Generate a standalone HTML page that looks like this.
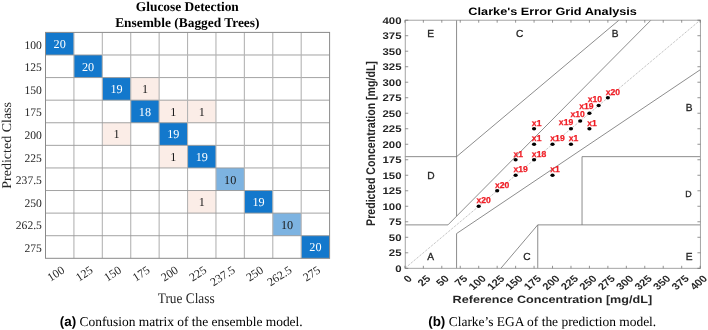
<!DOCTYPE html>
<html><head><meta charset="utf-8"><style>html,body{margin:0;padding:0;width:708px;height:330px;overflow:hidden;background:#fff;font-family:"Liberation Sans",sans-serif}
#w{position:absolute;left:0;top:0;width:708px;height:330px;will-change:transform}
svg text{text-rendering:geometricPrecision}</style></head>
<body><div id="w">
<svg width="708" height="330" viewBox="0 0 708 330">
<rect width="708" height="330" fill="#fff"/>
<rect x="45.50" y="32.40" width="28.41" height="22.59" fill="#1378CC"/>
<rect x="73.91" y="54.99" width="28.41" height="22.59" fill="#1378CC"/>
<rect x="102.32" y="77.58" width="28.41" height="22.59" fill="#1378CC"/>
<rect x="130.73" y="77.58" width="28.41" height="22.59" fill="#FBEDE7"/>
<rect x="130.73" y="100.17" width="28.41" height="22.59" fill="#1378CC"/>
<rect x="159.14" y="100.17" width="28.41" height="22.59" fill="#FBEDE7"/>
<rect x="187.55" y="100.17" width="28.41" height="22.59" fill="#FBEDE7"/>
<rect x="102.32" y="122.76" width="28.41" height="22.59" fill="#FBEDE7"/>
<rect x="159.14" y="122.76" width="28.41" height="22.59" fill="#1378CC"/>
<rect x="159.14" y="145.35" width="28.41" height="22.59" fill="#FBEDE7"/>
<rect x="187.55" y="145.35" width="28.41" height="22.59" fill="#1378CC"/>
<rect x="215.96" y="167.94" width="28.41" height="22.59" fill="#7DB3E1"/>
<rect x="187.55" y="190.53" width="28.41" height="22.59" fill="#FBEDE7"/>
<rect x="244.37" y="190.53" width="28.41" height="22.59" fill="#1378CC"/>
<rect x="272.78" y="213.12" width="28.41" height="22.59" fill="#7DB3E1"/>
<rect x="301.19" y="235.71" width="28.41" height="22.59" fill="#1378CC"/>
<line x1="73.91" y1="32.4" x2="73.91" y2="258.3" stroke="#b4b4b4" stroke-width="1.1"/>
<line x1="45.5" y1="54.99" x2="329.6" y2="54.99" stroke="#999" stroke-width="0.9"/>
<line x1="102.32" y1="32.4" x2="102.32" y2="258.3" stroke="#b4b4b4" stroke-width="1.1"/>
<line x1="45.5" y1="77.58" x2="329.6" y2="77.58" stroke="#999" stroke-width="0.9"/>
<line x1="130.73" y1="32.4" x2="130.73" y2="258.3" stroke="#b4b4b4" stroke-width="1.1"/>
<line x1="45.5" y1="100.17" x2="329.6" y2="100.17" stroke="#999" stroke-width="0.9"/>
<line x1="159.14" y1="32.4" x2="159.14" y2="258.3" stroke="#b4b4b4" stroke-width="1.1"/>
<line x1="45.5" y1="122.76" x2="329.6" y2="122.76" stroke="#999" stroke-width="0.9"/>
<line x1="187.55" y1="32.4" x2="187.55" y2="258.3" stroke="#b4b4b4" stroke-width="1.1"/>
<line x1="45.5" y1="145.35" x2="329.6" y2="145.35" stroke="#999" stroke-width="0.9"/>
<line x1="215.96" y1="32.4" x2="215.96" y2="258.3" stroke="#b4b4b4" stroke-width="1.1"/>
<line x1="45.5" y1="167.94" x2="329.6" y2="167.94" stroke="#999" stroke-width="0.9"/>
<line x1="244.37" y1="32.4" x2="244.37" y2="258.3" stroke="#b4b4b4" stroke-width="1.1"/>
<line x1="45.5" y1="190.53" x2="329.6" y2="190.53" stroke="#999" stroke-width="0.9"/>
<line x1="272.78" y1="32.4" x2="272.78" y2="258.3" stroke="#b4b4b4" stroke-width="1.1"/>
<line x1="45.5" y1="213.12" x2="329.6" y2="213.12" stroke="#999" stroke-width="0.9"/>
<line x1="301.19" y1="32.4" x2="301.19" y2="258.3" stroke="#b4b4b4" stroke-width="1.1"/>
<line x1="45.5" y1="235.71" x2="329.6" y2="235.71" stroke="#999" stroke-width="0.9"/>
<rect x="45.5" y="32.4" width="284.10" height="225.90" fill="none" stroke="#8a8a8a" stroke-width="1"/>
<text transform="translate(59.70,47.99)" font-family="Liberation Serif, serif" font-size="12.2" fill="#fff" text-anchor="middle">20</text>
<text transform="translate(88.12,70.58)" font-family="Liberation Serif, serif" font-size="12.2" fill="#fff" text-anchor="middle">20</text>
<text transform="translate(116.53,93.17)" font-family="Liberation Serif, serif" font-size="12.2" fill="#fff" text-anchor="middle">19</text>
<text transform="translate(144.94,93.17)" font-family="Liberation Serif, serif" font-size="12.2" fill="#1a1a1a" text-anchor="middle">1</text>
<text transform="translate(144.94,115.77)" font-family="Liberation Serif, serif" font-size="12.2" fill="#fff" text-anchor="middle">18</text>
<text transform="translate(173.35,115.77)" font-family="Liberation Serif, serif" font-size="12.2" fill="#1a1a1a" text-anchor="middle">1</text>
<text transform="translate(201.76,115.77)" font-family="Liberation Serif, serif" font-size="12.2" fill="#1a1a1a" text-anchor="middle">1</text>
<text transform="translate(116.53,138.36)" font-family="Liberation Serif, serif" font-size="12.2" fill="#1a1a1a" text-anchor="middle">1</text>
<text transform="translate(173.35,138.36)" font-family="Liberation Serif, serif" font-size="12.2" fill="#fff" text-anchor="middle">19</text>
<text transform="translate(173.35,160.95)" font-family="Liberation Serif, serif" font-size="12.2" fill="#1a1a1a" text-anchor="middle">1</text>
<text transform="translate(201.76,160.95)" font-family="Liberation Serif, serif" font-size="12.2" fill="#fff" text-anchor="middle">19</text>
<text transform="translate(230.17,183.54)" font-family="Liberation Serif, serif" font-size="12.2" fill="#1a1a1a" text-anchor="middle">10</text>
<text transform="translate(201.76,206.13)" font-family="Liberation Serif, serif" font-size="12.2" fill="#1a1a1a" text-anchor="middle">1</text>
<text transform="translate(258.58,206.13)" font-family="Liberation Serif, serif" font-size="12.2" fill="#fff" text-anchor="middle">19</text>
<text transform="translate(286.99,228.72)" font-family="Liberation Serif, serif" font-size="12.2" fill="#1a1a1a" text-anchor="middle">10</text>
<text transform="translate(315.40,251.31)" font-family="Liberation Serif, serif" font-size="12.2" fill="#fff" text-anchor="middle">20</text>
<text transform="translate(41.90,48.70)" font-family="Liberation Serif, serif" font-size="11.6" fill="#262626" text-anchor="end">100</text>
<text transform="translate(41.90,71.28)" font-family="Liberation Serif, serif" font-size="11.6" fill="#262626" text-anchor="end">125</text>
<text transform="translate(41.90,93.88)" font-family="Liberation Serif, serif" font-size="11.6" fill="#262626" text-anchor="end">150</text>
<text transform="translate(41.90,116.47)" font-family="Liberation Serif, serif" font-size="11.6" fill="#262626" text-anchor="end">175</text>
<text transform="translate(41.90,139.06)" font-family="Liberation Serif, serif" font-size="11.6" fill="#262626" text-anchor="end">200</text>
<text transform="translate(41.90,161.65)" font-family="Liberation Serif, serif" font-size="11.6" fill="#262626" text-anchor="end">225</text>
<text transform="translate(41.90,184.24)" font-family="Liberation Serif, serif" font-size="11.6" fill="#262626" text-anchor="end">237.5</text>
<text transform="translate(41.90,206.83)" font-family="Liberation Serif, serif" font-size="11.6" fill="#262626" text-anchor="end">250</text>
<text transform="translate(41.90,229.41)" font-family="Liberation Serif, serif" font-size="11.6" fill="#262626" text-anchor="end">262.5</text>
<text transform="translate(41.90,252.00)" font-family="Liberation Serif, serif" font-size="11.6" fill="#262626" text-anchor="end">275</text>
<text transform="translate(63.20,268.70) rotate(-33)" x="0" y="4" font-family="Liberation Serif, serif" font-size="11.8" fill="#262626" text-anchor="end">100</text>
<text transform="translate(91.62,268.70) rotate(-33)" x="0" y="4" font-family="Liberation Serif, serif" font-size="11.8" fill="#262626" text-anchor="end">125</text>
<text transform="translate(120.03,268.70) rotate(-33)" x="0" y="4" font-family="Liberation Serif, serif" font-size="11.8" fill="#262626" text-anchor="end">150</text>
<text transform="translate(148.44,268.70) rotate(-33)" x="0" y="4" font-family="Liberation Serif, serif" font-size="11.8" fill="#262626" text-anchor="end">175</text>
<text transform="translate(176.85,268.70) rotate(-33)" x="0" y="4" font-family="Liberation Serif, serif" font-size="11.8" fill="#262626" text-anchor="end">200</text>
<text transform="translate(205.26,268.70) rotate(-33)" x="0" y="4" font-family="Liberation Serif, serif" font-size="11.8" fill="#262626" text-anchor="end">225</text>
<text transform="translate(233.67,268.70) rotate(-33)" x="0" y="4" font-family="Liberation Serif, serif" font-size="11.8" fill="#262626" text-anchor="end">237.5</text>
<text transform="translate(262.08,268.70) rotate(-33)" x="0" y="4" font-family="Liberation Serif, serif" font-size="11.8" fill="#262626" text-anchor="end">250</text>
<text transform="translate(290.49,268.70) rotate(-33)" x="0" y="4" font-family="Liberation Serif, serif" font-size="11.8" fill="#262626" text-anchor="end">262.5</text>
<text transform="translate(318.90,268.70) rotate(-33)" x="0" y="4" font-family="Liberation Serif, serif" font-size="11.8" fill="#262626" text-anchor="end">275</text>
<text transform="translate(186.20,302.70) scale(0.9130,1.0000)" font-family="Liberation Serif, serif" font-size="14.6" fill="#262626" text-anchor="middle">True Class</text>
<text transform="translate(10.90,145.35) scale(1.0000,1.0450) rotate(-90)" font-family="Liberation Serif, serif" font-size="13.4" fill="#262626" text-anchor="middle">Predicted Class</text>
<text transform="translate(187.30,10.60)" font-family="Liberation Serif, serif" font-size="13.4" font-weight="bold" fill="#000" text-anchor="middle">Glucose Detection</text>
<text transform="translate(187.30,26.50)" font-family="Liberation Serif, serif" font-size="13.4" font-weight="bold" fill="#000" text-anchor="middle">Ensemble (Bagged Trees)</text>
<line x1="404.90" y1="224.88" x2="447.96" y2="224.88" stroke="#707070" stroke-width="0.8"/>
<line x1="447.96" y1="224.88" x2="650.93" y2="20.20" stroke="#707070" stroke-width="0.8"/>
<line x1="456.57" y1="216.20" x2="456.57" y2="20.20" stroke="#707070" stroke-width="0.8"/>
<line x1="404.90" y1="156.65" x2="456.57" y2="156.65" stroke="#707070" stroke-width="0.8"/>
<line x1="456.57" y1="156.65" x2="618.95" y2="20.20" stroke="#707070" stroke-width="0.8"/>
<line x1="456.57" y1="268.30" x2="456.57" y2="233.57" stroke="#707070" stroke-width="0.8"/>
<line x1="456.57" y1="233.57" x2="700.14" y2="69.82" stroke="#707070" stroke-width="0.8"/>
<line x1="537.76" y1="268.30" x2="537.76" y2="224.88" stroke="#707070" stroke-width="0.8"/>
<line x1="537.76" y1="224.88" x2="700.14" y2="224.88" stroke="#707070" stroke-width="0.8"/>
<line x1="582.04" y1="224.88" x2="582.04" y2="156.65" stroke="#707070" stroke-width="0.8"/>
<line x1="582.04" y1="156.65" x2="700.14" y2="156.65" stroke="#707070" stroke-width="0.8"/>
<line x1="500.85" y1="268.30" x2="537.76" y2="224.88" stroke="#707070" stroke-width="0.8"/>
<line x1="404.90" y1="268.30" x2="700.14" y2="20.20" stroke="#8c8c8c" stroke-width="0.75" stroke-dasharray="0.9 1.1"/>
<rect x="405.25" y="20.20" width="295.15" height="248.10" fill="none" stroke="#9a9a9a" stroke-width="0.9"/>
<path d="M404.90 268.3v-2.5M404.90 20.2v2.5M405.25 268.30h2.97M700.4 268.30h-2.97M423.35 268.3v-2.5M423.35 20.2v2.5M405.25 252.79h2.97M700.4 252.79h-2.97M441.80 268.3v-2.5M441.80 20.2v2.5M405.25 237.29h2.97M700.4 237.29h-2.97M460.26 268.3v-2.5M460.26 20.2v2.5M405.25 221.78h2.97M700.4 221.78h-2.97M478.71 268.3v-2.5M478.71 20.2v2.5M405.25 206.28h2.97M700.4 206.28h-2.97M497.16 268.3v-2.5M497.16 20.2v2.5M405.25 190.77h2.97M700.4 190.77h-2.97M515.62 268.3v-2.5M515.62 20.2v2.5M405.25 175.26h2.97M700.4 175.26h-2.97M534.07 268.3v-2.5M534.07 20.2v2.5M405.25 159.76h2.97M700.4 159.76h-2.97M552.52 268.3v-2.5M552.52 20.2v2.5M405.25 144.25h2.97M700.4 144.25h-2.97M570.97 268.3v-2.5M570.97 20.2v2.5M405.25 128.74h2.97M700.4 128.74h-2.97M589.42 268.3v-2.5M589.42 20.2v2.5M405.25 113.24h2.97M700.4 113.24h-2.97M607.88 268.3v-2.5M607.88 20.2v2.5M405.25 97.73h2.97M700.4 97.73h-2.97M626.33 268.3v-2.5M626.33 20.2v2.5M405.25 82.23h2.97M700.4 82.23h-2.97M644.78 268.3v-2.5M644.78 20.2v2.5M405.25 66.72h2.97M700.4 66.72h-2.97M663.23 268.3v-2.5M663.23 20.2v2.5M405.25 51.21h2.97M700.4 51.21h-2.97M681.69 268.3v-2.5M681.69 20.2v2.5M405.25 35.71h2.97M700.4 35.71h-2.97M700.14 268.3v-2.5M700.14 20.2v2.5M405.25 20.20h2.97M700.4 20.20h-2.97" stroke="#666" stroke-width="0.7" fill="none"/>
<text transform="translate(401.50,271.80) scale(1.1894,1.0000)" font-family="Liberation Sans, sans-serif" font-size="9.6" font-weight="bold" fill="#262626" text-anchor="end">0</text>
<text transform="translate(401.50,256.29) scale(1.1894,1.0000)" font-family="Liberation Sans, sans-serif" font-size="9.6" font-weight="bold" fill="#262626" text-anchor="end">25</text>
<text transform="translate(401.50,240.79) scale(1.1894,1.0000)" font-family="Liberation Sans, sans-serif" font-size="9.6" font-weight="bold" fill="#262626" text-anchor="end">50</text>
<text transform="translate(401.50,225.28) scale(1.1894,1.0000)" font-family="Liberation Sans, sans-serif" font-size="9.6" font-weight="bold" fill="#262626" text-anchor="end">75</text>
<text transform="translate(401.50,209.78) scale(1.1894,1.0000)" font-family="Liberation Sans, sans-serif" font-size="9.6" font-weight="bold" fill="#262626" text-anchor="end">100</text>
<text transform="translate(401.50,194.27) scale(1.1894,1.0000)" font-family="Liberation Sans, sans-serif" font-size="9.6" font-weight="bold" fill="#262626" text-anchor="end">125</text>
<text transform="translate(401.50,178.76) scale(1.1894,1.0000)" font-family="Liberation Sans, sans-serif" font-size="9.6" font-weight="bold" fill="#262626" text-anchor="end">150</text>
<text transform="translate(401.50,163.26) scale(1.1894,1.0000)" font-family="Liberation Sans, sans-serif" font-size="9.6" font-weight="bold" fill="#262626" text-anchor="end">175</text>
<text transform="translate(401.50,147.75) scale(1.1894,1.0000)" font-family="Liberation Sans, sans-serif" font-size="9.6" font-weight="bold" fill="#262626" text-anchor="end">200</text>
<text transform="translate(401.50,132.24) scale(1.1894,1.0000)" font-family="Liberation Sans, sans-serif" font-size="9.6" font-weight="bold" fill="#262626" text-anchor="end">225</text>
<text transform="translate(401.50,116.74) scale(1.1894,1.0000)" font-family="Liberation Sans, sans-serif" font-size="9.6" font-weight="bold" fill="#262626" text-anchor="end">250</text>
<text transform="translate(401.50,101.23) scale(1.1894,1.0000)" font-family="Liberation Sans, sans-serif" font-size="9.6" font-weight="bold" fill="#262626" text-anchor="end">275</text>
<text transform="translate(401.50,85.73) scale(1.1894,1.0000)" font-family="Liberation Sans, sans-serif" font-size="9.6" font-weight="bold" fill="#262626" text-anchor="end">300</text>
<text transform="translate(401.50,70.22) scale(1.1894,1.0000)" font-family="Liberation Sans, sans-serif" font-size="9.6" font-weight="bold" fill="#262626" text-anchor="end">325</text>
<text transform="translate(401.50,54.71) scale(1.1894,1.0000)" font-family="Liberation Sans, sans-serif" font-size="9.6" font-weight="bold" fill="#262626" text-anchor="end">350</text>
<text transform="translate(401.50,39.21) scale(1.1894,1.0000)" font-family="Liberation Sans, sans-serif" font-size="9.6" font-weight="bold" fill="#262626" text-anchor="end">375</text>
<text transform="translate(401.50,23.70) scale(1.1894,1.0000)" font-family="Liberation Sans, sans-serif" font-size="9.6" font-weight="bold" fill="#262626" text-anchor="end">400</text>
<text transform="translate(410.00,276.70) scale(1.1894,1.0000) rotate(-45)" x="0" y="3.4" font-family="Liberation Sans, sans-serif" font-size="9.6" font-weight="bold" fill="#262626" text-anchor="end">0</text>
<text transform="translate(428.45,276.70) scale(1.1894,1.0000) rotate(-45)" x="0" y="3.4" font-family="Liberation Sans, sans-serif" font-size="9.6" font-weight="bold" fill="#262626" text-anchor="end">25</text>
<text transform="translate(446.90,276.70) scale(1.1894,1.0000) rotate(-45)" x="0" y="3.4" font-family="Liberation Sans, sans-serif" font-size="9.6" font-weight="bold" fill="#262626" text-anchor="end">50</text>
<text transform="translate(465.36,276.70) scale(1.1894,1.0000) rotate(-45)" x="0" y="3.4" font-family="Liberation Sans, sans-serif" font-size="9.6" font-weight="bold" fill="#262626" text-anchor="end">75</text>
<text transform="translate(483.81,276.70) scale(1.1894,1.0000) rotate(-45)" x="0" y="3.4" font-family="Liberation Sans, sans-serif" font-size="9.6" font-weight="bold" fill="#262626" text-anchor="end">100</text>
<text transform="translate(502.26,276.70) scale(1.1894,1.0000) rotate(-45)" x="0" y="3.4" font-family="Liberation Sans, sans-serif" font-size="9.6" font-weight="bold" fill="#262626" text-anchor="end">125</text>
<text transform="translate(520.72,276.70) scale(1.1894,1.0000) rotate(-45)" x="0" y="3.4" font-family="Liberation Sans, sans-serif" font-size="9.6" font-weight="bold" fill="#262626" text-anchor="end">150</text>
<text transform="translate(539.17,276.70) scale(1.1894,1.0000) rotate(-45)" x="0" y="3.4" font-family="Liberation Sans, sans-serif" font-size="9.6" font-weight="bold" fill="#262626" text-anchor="end">175</text>
<text transform="translate(557.62,276.70) scale(1.1894,1.0000) rotate(-45)" x="0" y="3.4" font-family="Liberation Sans, sans-serif" font-size="9.6" font-weight="bold" fill="#262626" text-anchor="end">200</text>
<text transform="translate(576.07,276.70) scale(1.1894,1.0000) rotate(-45)" x="0" y="3.4" font-family="Liberation Sans, sans-serif" font-size="9.6" font-weight="bold" fill="#262626" text-anchor="end">225</text>
<text transform="translate(594.52,276.70) scale(1.1894,1.0000) rotate(-45)" x="0" y="3.4" font-family="Liberation Sans, sans-serif" font-size="9.6" font-weight="bold" fill="#262626" text-anchor="end">250</text>
<text transform="translate(612.98,276.70) scale(1.1894,1.0000) rotate(-45)" x="0" y="3.4" font-family="Liberation Sans, sans-serif" font-size="9.6" font-weight="bold" fill="#262626" text-anchor="end">275</text>
<text transform="translate(631.43,276.70) scale(1.1894,1.0000) rotate(-45)" x="0" y="3.4" font-family="Liberation Sans, sans-serif" font-size="9.6" font-weight="bold" fill="#262626" text-anchor="end">300</text>
<text transform="translate(649.88,276.70) scale(1.1894,1.0000) rotate(-45)" x="0" y="3.4" font-family="Liberation Sans, sans-serif" font-size="9.6" font-weight="bold" fill="#262626" text-anchor="end">325</text>
<text transform="translate(668.33,276.70) scale(1.1894,1.0000) rotate(-45)" x="0" y="3.4" font-family="Liberation Sans, sans-serif" font-size="9.6" font-weight="bold" fill="#262626" text-anchor="end">350</text>
<text transform="translate(686.79,276.70) scale(1.1894,1.0000) rotate(-45)" x="0" y="3.4" font-family="Liberation Sans, sans-serif" font-size="9.6" font-weight="bold" fill="#262626" text-anchor="end">375</text>
<text transform="translate(705.24,276.70) scale(1.1894,1.0000) rotate(-45)" x="0" y="3.4" font-family="Liberation Sans, sans-serif" font-size="9.6" font-weight="bold" fill="#262626" text-anchor="end">400</text>
<text transform="translate(427.34,259.89)" font-family="Liberation Sans, sans-serif" font-size="10.2" fill="#262626" stroke="#262626" stroke-width="0.3">A</text>
<text transform="translate(427.34,179.26)" font-family="Liberation Sans, sans-serif" font-size="10.2" fill="#262626" stroke="#262626" stroke-width="0.3">D</text>
<text transform="translate(427.34,36.60)" font-family="Liberation Sans, sans-serif" font-size="10.2" fill="#262626" stroke="#262626" stroke-width="0.3">E</text>
<text transform="translate(515.91,36.60)" font-family="Liberation Sans, sans-serif" font-size="10.2" fill="#262626" stroke="#262626" stroke-width="0.3">C</text>
<text transform="translate(523.30,259.89)" font-family="Liberation Sans, sans-serif" font-size="10.2" fill="#262626" stroke="#262626" stroke-width="0.3">C</text>
<text transform="translate(685.68,259.89)" font-family="Liberation Sans, sans-serif" font-size="10.2" fill="#262626" stroke="#262626" stroke-width="0.3">E</text>
<text transform="translate(685.68,111.03)" font-family="Liberation Sans, sans-serif" font-size="10.2" fill="#262626" stroke="#262626" stroke-width="0.3">B</text>
<text transform="translate(611.87,36.60)" font-family="Liberation Sans, sans-serif" font-size="10.2" fill="#262626" stroke="#262626" stroke-width="0.3">B</text>
<text transform="translate(685.28,196.87)" font-family="Liberation Sans, sans-serif" font-size="8.8" fill="#262626" stroke="#262626" stroke-width="0.3">D</text>
<ellipse cx="478.71" cy="206.18" rx="2.1" ry="1.75" fill="#000"/>
<ellipse cx="497.16" cy="190.67" rx="2.1" ry="1.75" fill="#000"/>
<ellipse cx="515.62" cy="175.16" rx="2.1" ry="1.75" fill="#000"/>
<ellipse cx="515.62" cy="159.66" rx="2.1" ry="1.75" fill="#000"/>
<ellipse cx="534.07" cy="159.66" rx="2.1" ry="1.75" fill="#000"/>
<ellipse cx="552.52" cy="175.16" rx="2.1" ry="1.75" fill="#000"/>
<ellipse cx="534.07" cy="144.15" rx="2.1" ry="1.75" fill="#000"/>
<ellipse cx="552.52" cy="144.15" rx="2.1" ry="1.75" fill="#000"/>
<ellipse cx="570.97" cy="144.15" rx="2.1" ry="1.75" fill="#000"/>
<ellipse cx="534.07" cy="128.64" rx="2.1" ry="1.75" fill="#000"/>
<ellipse cx="570.97" cy="128.64" rx="2.1" ry="1.75" fill="#000"/>
<ellipse cx="580.20" cy="120.89" rx="2.1" ry="1.75" fill="#000"/>
<ellipse cx="589.42" cy="128.64" rx="2.1" ry="1.75" fill="#000"/>
<ellipse cx="589.42" cy="113.14" rx="2.1" ry="1.75" fill="#000"/>
<ellipse cx="598.65" cy="105.38" rx="2.1" ry="1.75" fill="#000"/>
<ellipse cx="607.88" cy="97.63" rx="2.1" ry="1.75" fill="#000"/>
<text transform="translate(476.51,203.08)" font-family="Liberation Sans, sans-serif" font-size="8.6" font-weight="bold" fill="#f01c24" stroke="#f01c24" stroke-width="0.25">x20</text>
<text transform="translate(494.96,187.57)" font-family="Liberation Sans, sans-serif" font-size="8.6" font-weight="bold" fill="#f01c24" stroke="#f01c24" stroke-width="0.25">x20</text>
<text transform="translate(513.41,172.06)" font-family="Liberation Sans, sans-serif" font-size="8.6" font-weight="bold" fill="#f01c24" stroke="#f01c24" stroke-width="0.25">x19</text>
<text transform="translate(513.41,156.56)" font-family="Liberation Sans, sans-serif" font-size="8.6" font-weight="bold" fill="#f01c24" stroke="#f01c24" stroke-width="0.25">x1</text>
<text transform="translate(531.87,156.56)" font-family="Liberation Sans, sans-serif" font-size="8.6" font-weight="bold" fill="#f01c24" stroke="#f01c24" stroke-width="0.25">x18</text>
<text transform="translate(550.32,172.06)" font-family="Liberation Sans, sans-serif" font-size="8.6" font-weight="bold" fill="#f01c24" stroke="#f01c24" stroke-width="0.25">x1</text>
<text transform="translate(531.87,141.05)" font-family="Liberation Sans, sans-serif" font-size="8.6" font-weight="bold" fill="#f01c24" stroke="#f01c24" stroke-width="0.25">x1</text>
<text transform="translate(550.32,141.05)" font-family="Liberation Sans, sans-serif" font-size="8.6" font-weight="bold" fill="#f01c24" stroke="#f01c24" stroke-width="0.25">x19</text>
<text transform="translate(568.77,141.05)" font-family="Liberation Sans, sans-serif" font-size="8.6" font-weight="bold" fill="#f01c24" stroke="#f01c24" stroke-width="0.25">x1</text>
<text transform="translate(531.87,125.54)" font-family="Liberation Sans, sans-serif" font-size="8.6" font-weight="bold" fill="#f01c24" stroke="#f01c24" stroke-width="0.25">x1</text>
<text transform="translate(558.87,125.34)" font-family="Liberation Sans, sans-serif" font-size="8.6" font-weight="bold" fill="#f01c24" stroke="#f01c24" stroke-width="0.25">x19</text>
<text transform="translate(570.50,117.39)" font-family="Liberation Sans, sans-serif" font-size="8.6" font-weight="bold" fill="#f01c24" stroke="#f01c24" stroke-width="0.25">x10</text>
<text transform="translate(587.22,125.54)" font-family="Liberation Sans, sans-serif" font-size="8.6" font-weight="bold" fill="#f01c24" stroke="#f01c24" stroke-width="0.25">x1</text>
<text transform="translate(579.22,109.44)" font-family="Liberation Sans, sans-serif" font-size="8.6" font-weight="bold" fill="#f01c24" stroke="#f01c24" stroke-width="0.25">x19</text>
<text transform="translate(587.75,101.68)" font-family="Liberation Sans, sans-serif" font-size="8.6" font-weight="bold" fill="#f01c24" stroke="#f01c24" stroke-width="0.25">x10</text>
<text transform="translate(605.68,94.53)" font-family="Liberation Sans, sans-serif" font-size="8.6" font-weight="bold" fill="#f01c24" stroke="#f01c24" stroke-width="0.25">x20</text>
<text transform="translate(552.65,15.40) scale(1.1894,1.0000)" font-family="Liberation Sans, sans-serif" font-size="10.7" font-weight="bold" fill="#000" text-anchor="middle">Clarke's Error Grid Analysis</text>
<text transform="translate(552.35,302.90) scale(1.1894,1.0000)" font-family="Liberation Sans, sans-serif" font-size="10.6" font-weight="bold" fill="#262626" text-anchor="middle">Reference Concentration [mg/dL]</text>
<text transform="translate(374.70,143.50) scale(1.1894,1.0000) rotate(-90)" font-family="Liberation Sans, sans-serif" font-size="10.6" font-weight="bold" fill="#262626" text-anchor="middle">Predicted Concentration [mg/dL]</text>
<text x="59.7" y="325.5" font-size="13.45" fill="#000"><tspan font-family="Liberation Sans, sans-serif" font-weight="bold">(a)</tspan><tspan font-family="Liberation Serif, serif"> Confusion matrix of the ensemble model.</tspan></text>
<text x="428.2" y="325.5" font-size="13.45" fill="#000"><tspan font-family="Liberation Sans, sans-serif" font-weight="bold">(b)</tspan><tspan font-family="Liberation Serif, serif"> Clarke’s EGA of the prediction model.</tspan></text>
</svg></div></body></html>
